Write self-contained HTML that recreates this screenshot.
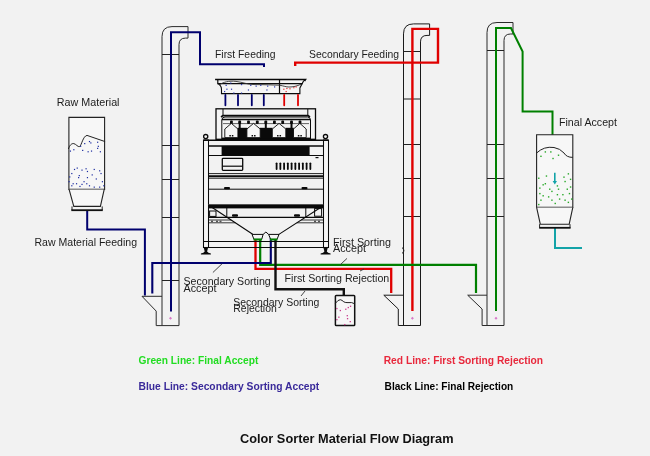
<!DOCTYPE html>
<html><head><meta charset="utf-8"><style>
html,body{margin:0;padding:0;background:#f2f2f2;width:650px;height:456px;overflow:hidden}
svg{display:block;will-change:transform;font-family:"Liberation Sans",sans-serif}
</style></head><body>
<svg width="650" height="456" viewBox="0 0 650 456">
<path d="M162,325.6 V36.6 Q162,26.6 172,26.6 H188 V38.1 H185.5 Q179,38.1 179,44.6 V325.6" fill="none" stroke="#2a2a2a" stroke-width="1.0"/>
<path d="M162,296.3 H142 L156.2,311.1 V325.6 H179" fill="none" stroke="#2a2a2a" stroke-width="1.0"/>
<line x1="162" y1="54.5" x2="179" y2="54.5" stroke="#222" stroke-width="1"/>
<line x1="162" y1="145.5" x2="179" y2="145.5" stroke="#222" stroke-width="1"/>
<line x1="162" y1="179.5" x2="179" y2="179.5" stroke="#222" stroke-width="1"/>
<line x1="162" y1="217.5" x2="179" y2="217.5" stroke="#222" stroke-width="1"/>
<line x1="162" y1="280.5" x2="179" y2="280.5" stroke="#222" stroke-width="1"/>
<path d="M403.5,325.5 V33.9 Q403.5,23.9 413.5,23.9 H429.6 V35.4 H427.0 Q420.5,35.4 420.5,41.9 V325.5" fill="none" stroke="#1a1a1a" stroke-width="1"/>
<path d="M403.5,295.2 H383.8 L398.3,309.0 V325.5 H420.5" fill="none" stroke="#1a1a1a" stroke-width="1"/>
<line x1="403.5" y1="51.5" x2="420.5" y2="51.5" stroke="#222" stroke-width="1"/>
<line x1="403.5" y1="99" x2="420.5" y2="99" stroke="#222" stroke-width="1"/>
<line x1="403.5" y1="144.5" x2="420.5" y2="144.5" stroke="#222" stroke-width="1"/>
<line x1="403.5" y1="178.5" x2="420.5" y2="178.5" stroke="#222" stroke-width="1"/>
<line x1="403.5" y1="216.5" x2="420.5" y2="216.5" stroke="#222" stroke-width="1"/>
<line x1="403.5" y1="264.8" x2="420.5" y2="264.8" stroke="#222" stroke-width="1"/>
<path d="M487,325.5 V32.5 Q487,22.5 497,22.5 H513 V34.0 H510.5 Q504,34.0 504,40.5 V325.5" fill="none" stroke="#2a2a2a" stroke-width="1.0"/>
<path d="M487,295.2 H467.7 L482.09999999999997,309.0 V325.5 H504" fill="none" stroke="#2a2a2a" stroke-width="1.0"/>
<line x1="487" y1="50.5" x2="504" y2="50.5" stroke="#222" stroke-width="1"/>
<line x1="487" y1="144.5" x2="504" y2="144.5" stroke="#222" stroke-width="1"/>
<line x1="487" y1="178.5" x2="504" y2="178.5" stroke="#222" stroke-width="1"/>
<line x1="487" y1="216.5" x2="504" y2="216.5" stroke="#222" stroke-width="1"/>
<path d="M170.5,316.8 L172.0,318.3 L170.5,319.8 L169.0,318.3 Z" fill="#d878c8"/>
<path d="M412.4,316.8 L413.9,318.3 L412.4,319.8 L410.9,318.3 Z" fill="#d878c8"/>
<path d="M496,316.8 L497.5,318.3 L496,319.8 L494.5,318.3 Z" fill="#d878c8"/>
<path d="M412.4,311 V28.9 H438 V62.6 H295.2 V66" fill="none" stroke="#e00000" stroke-width="2.4" stroke-linejoin="miter" stroke-linecap="butt"/>
<path d="M255.5,238 V268.8 H391.2 V293" fill="none" stroke="#e00000" stroke-width="2.3" stroke-linejoin="miter" stroke-linecap="butt"/>
<path d="M260.2,238 V264.9 H476 V293" fill="none" stroke="#008000" stroke-width="2.2" stroke-linejoin="miter" stroke-linecap="butt"/>
<path d="M496,311 V28 H511 L522.6,51.6 V111.4 H552.5 V135" fill="none" stroke="#008000" stroke-width="2" stroke-linejoin="miter" stroke-linecap="butt"/>
<path d="M171,311.6 V32.3 H200 V64.3 H264 V67" fill="none" stroke="#00006e" stroke-width="2" stroke-linejoin="miter" stroke-linecap="butt"/>
<path d="M87.2,210 V229.5 H144.9 V295.4" fill="none" stroke="#00006e" stroke-width="2" stroke-linejoin="miter" stroke-linecap="butt"/>
<path d="M152.3,293.4 V263 H270.8 V238" fill="none" stroke="#00006e" stroke-width="2.1" stroke-linejoin="miter" stroke-linecap="butt"/>
<path d="M275.5,238 V289.3 H343.8 V295.4" fill="none" stroke="#111" stroke-width="2.4" stroke-linejoin="miter" stroke-linecap="butt"/>
<path d="M555,228 V248.1 H582" fill="none" stroke="#13a3a8" stroke-width="2" stroke-linejoin="miter" stroke-linecap="butt"/>
<path d="M68.9,189.4 V117.4 H104.6 V189.4 Z" fill="#f7f7f7" stroke="#222" stroke-width="1.1"/>
<path d="M69.1,189.4 L73.8,206.4 H100.4 L104.2,189.4" fill="#f7f7f7" stroke="#222" stroke-width="1.1"/>
<path d="M72,206.4 V210 M102.2,206.4 V210" fill="none" stroke="#222" stroke-width="1"/>
<path d="M71.3,210.2 H102.8" fill="none" stroke="#111" stroke-width="1.8"/>
<path d="M68.4,149 C69.5,145.5 71.5,143.2 73.8,143.6 C76,144 77.8,147.2 79.6,146.6 C81.5,145.5 83,136 87,135.4 L105.1,141.6" fill="none" stroke="#222" stroke-width="1"/>
<rect x="69.84" y="150.49" width="1.2" height="1.2" fill="#1c2ca0"/>
<rect x="73.24" y="149.13" width="1.2" height="1.2" fill="#1c2ca0"/>
<rect x="80.05" y="145.73" width="1.2" height="1.2" fill="#1c2ca0"/>
<rect x="82.09" y="149.81" width="1.2" height="1.2" fill="#1c2ca0"/>
<rect x="84.13" y="143.01" width="1.2" height="1.2" fill="#1c2ca0"/>
<rect x="88.89" y="140.96" width="1.2" height="1.2" fill="#1c2ca0"/>
<rect x="90.25" y="142.33" width="1.2" height="1.2" fill="#1c2ca0"/>
<rect x="87.53" y="151.17" width="1.2" height="1.2" fill="#1c2ca0"/>
<rect x="90.93" y="150.49" width="1.2" height="1.2" fill="#1c2ca0"/>
<rect x="97.05" y="141.64" width="1.2" height="1.2" fill="#1c2ca0"/>
<rect x="97.73" y="145.73" width="1.2" height="1.2" fill="#1c2ca0"/>
<rect x="97.05" y="147.77" width="1.2" height="1.2" fill="#1c2ca0"/>
<rect x="99.77" y="151.17" width="1.2" height="1.2" fill="#1c2ca0"/>
<rect x="73.92" y="168.86" width="1.2" height="1.2" fill="#1c2ca0"/>
<rect x="76.64" y="167.50" width="1.2" height="1.2" fill="#1c2ca0"/>
<rect x="81.41" y="169.54" width="1.2" height="1.2" fill="#1c2ca0"/>
<rect x="85.49" y="168.18" width="1.2" height="1.2" fill="#1c2ca0"/>
<rect x="86.85" y="170.90" width="1.2" height="1.2" fill="#1c2ca0"/>
<rect x="93.65" y="168.86" width="1.2" height="1.2" fill="#1c2ca0"/>
<rect x="99.09" y="170.22" width="1.2" height="1.2" fill="#1c2ca0"/>
<rect x="100.45" y="172.94" width="1.2" height="1.2" fill="#1c2ca0"/>
<rect x="71.20" y="172.94" width="1.2" height="1.2" fill="#1c2ca0"/>
<rect x="69.16" y="176.34" width="1.2" height="1.2" fill="#1c2ca0"/>
<rect x="78.01" y="177.02" width="1.2" height="1.2" fill="#1c2ca0"/>
<rect x="86.85" y="177.02" width="1.2" height="1.2" fill="#1c2ca0"/>
<rect x="95.69" y="178.38" width="1.2" height="1.2" fill="#1c2ca0"/>
<rect x="101.81" y="181.10" width="1.2" height="1.2" fill="#1c2ca0"/>
<rect x="72.56" y="183.14" width="1.2" height="1.2" fill="#1c2ca0"/>
<rect x="75.96" y="183.14" width="1.2" height="1.2" fill="#1c2ca0"/>
<rect x="81.41" y="183.82" width="1.2" height="1.2" fill="#1c2ca0"/>
<rect x="86.17" y="183.14" width="1.2" height="1.2" fill="#1c2ca0"/>
<rect x="88.89" y="185.18" width="1.2" height="1.2" fill="#1c2ca0"/>
<rect x="79.37" y="185.86" width="1.2" height="1.2" fill="#1c2ca0"/>
<rect x="71.20" y="185.18" width="1.2" height="1.2" fill="#1c2ca0"/>
<rect x="93.65" y="186.54" width="1.2" height="1.2" fill="#1c2ca0"/>
<rect x="99.09" y="186.54" width="1.2" height="1.2" fill="#1c2ca0"/>
<rect x="103.18" y="185.18" width="1.2" height="1.2" fill="#1c2ca0"/>
<rect x="83.45" y="181.10" width="1.2" height="1.2" fill="#1c2ca0"/>
<rect x="68.48" y="181.10" width="1.2" height="1.2" fill="#1c2ca0"/>
<rect x="91.61" y="174.30" width="1.2" height="1.2" fill="#1c2ca0"/>
<rect x="78.69" y="174.98" width="1.2" height="1.2" fill="#1c2ca0"/>
<path d="M536.6,207.4 V134.8 H572.8 V207.4 Z" fill="#f7f7f7" stroke="#222" stroke-width="1.1"/>
<path d="M536.6,207.4 L540.3,224.2 H569.2 L572.8,207.4" fill="#f7f7f7" stroke="#222" stroke-width="1.1"/>
<path d="M539.6,224.2 V227.7 M570,224.2 V227.7" fill="none" stroke="#222" stroke-width="1"/>
<path d="M539.2,227.8 H570.6" fill="none" stroke="#111" stroke-width="1.8"/>
<path d="M536.6,153 Q544,146 554,147.5 Q560,148.5 564,153 Q566.5,157.4 572.8,157.4" fill="none" stroke="#222" stroke-width="1"/>
<path d="M554.8,172.8 V182" stroke="#13a3a8" stroke-width="1.6"/><path d="M552.6,181 L554.8,184.5 L557,181 Z" fill="#13a3a8"/>
<rect x="540.26" y="155.62" width="1.4" height="1.4" fill="#28a828"/>
<rect x="544.65" y="151.23" width="1.4" height="1.4" fill="#28a828"/>
<rect x="550.13" y="151.23" width="1.4" height="1.4" fill="#28a828"/>
<rect x="552.33" y="157.81" width="1.4" height="1.4" fill="#28a828"/>
<rect x="557.81" y="154.52" width="1.4" height="1.4" fill="#28a828"/>
<rect x="538.07" y="177.55" width="1.4" height="1.4" fill="#28a828"/>
<rect x="545.75" y="175.35" width="1.4" height="1.4" fill="#28a828"/>
<rect x="544.65" y="183.03" width="1.4" height="1.4" fill="#28a828"/>
<rect x="542.46" y="184.12" width="1.4" height="1.4" fill="#28a828"/>
<rect x="539.17" y="187.41" width="1.4" height="1.4" fill="#28a828"/>
<rect x="549.04" y="188.51" width="1.4" height="1.4" fill="#28a828"/>
<rect x="551.23" y="190.70" width="1.4" height="1.4" fill="#28a828"/>
<rect x="556.71" y="185.22" width="1.4" height="1.4" fill="#28a828"/>
<rect x="557.81" y="188.51" width="1.4" height="1.4" fill="#28a828"/>
<rect x="563.29" y="176.45" width="1.4" height="1.4" fill="#28a828"/>
<rect x="564.39" y="180.84" width="1.4" height="1.4" fill="#28a828"/>
<rect x="567.68" y="173.16" width="1.4" height="1.4" fill="#28a828"/>
<rect x="569.87" y="178.64" width="1.4" height="1.4" fill="#28a828"/>
<rect x="566.58" y="188.51" width="1.4" height="1.4" fill="#28a828"/>
<rect x="568.77" y="192.90" width="1.4" height="1.4" fill="#28a828"/>
<rect x="562.19" y="193.99" width="1.4" height="1.4" fill="#28a828"/>
<rect x="556.71" y="193.99" width="1.4" height="1.4" fill="#28a828"/>
<rect x="547.94" y="196.19" width="1.4" height="1.4" fill="#28a828"/>
<rect x="542.46" y="195.09" width="1.4" height="1.4" fill="#28a828"/>
<rect x="540.26" y="199.48" width="1.4" height="1.4" fill="#28a828"/>
<rect x="551.23" y="199.48" width="1.4" height="1.4" fill="#28a828"/>
<rect x="558.91" y="198.38" width="1.4" height="1.4" fill="#28a828"/>
<rect x="564.39" y="199.48" width="1.4" height="1.4" fill="#28a828"/>
<rect x="567.68" y="201.67" width="1.4" height="1.4" fill="#28a828"/>
<rect x="538.07" y="203.86" width="1.4" height="1.4" fill="#28a828"/>
<rect x="554.52" y="202.76" width="1.4" height="1.4" fill="#28a828"/>
<rect x="570.97" y="198.38" width="1.4" height="1.4" fill="#28a828"/>
<rect x="539.17" y="192.90" width="1.4" height="1.4" fill="#28a828"/>
<rect x="569.87" y="186.32" width="1.4" height="1.4" fill="#28a828"/>
<rect x="335.4" y="295.4" width="19.3" height="30.2" rx="0.8" fill="#f7f7f7" stroke="#111" stroke-width="1.5"/>
<path d="M335.4,303.3 Q338,299.7 340.3,299.7 Q342,300 343.8,301.8 Q345,302.6 347,302.6 H351.7 L354.7,303.8" fill="none" stroke="#222" stroke-width="1"/>
<rect x="336.23" y="307.91" width="1.3" height="1.3" fill="#c83c8c"/>
<rect x="339.70" y="309.89" width="1.3" height="1.3" fill="#c83c8c"/>
<rect x="345.14" y="308.61" width="1.3" height="1.3" fill="#c83c8c"/>
<rect x="347.62" y="306.92" width="1.3" height="1.3" fill="#c83c8c"/>
<rect x="349.89" y="305.64" width="1.3" height="1.3" fill="#c83c8c"/>
<rect x="346.63" y="315.04" width="1.3" height="1.3" fill="#c83c8c"/>
<rect x="346.92" y="318.01" width="1.3" height="1.3" fill="#c83c8c"/>
<rect x="338.21" y="316.53" width="1.3" height="1.3" fill="#c83c8c"/>
<rect x="336.23" y="319.00" width="1.3" height="1.3" fill="#c83c8c"/>
<rect x="349.60" y="320.98" width="1.3" height="1.3" fill="#c83c8c"/>
<rect x="344.15" y="323.95" width="1.3" height="1.3" fill="#c83c8c"/>
<path d="M217.8,83.6 Q221.5,85.5 221.5,89.5 V93.6 H299.9 V88 L303.8,80.5" fill="#f6f6f6" stroke="#0a0a0a" stroke-width="1.1"/>
<path d="M217.8,79.6 V83.6 H302.6" fill="none" stroke="#0a0a0a" stroke-width="1.2"/>
<path d="M215.1,79.4 H305.6 L304.5,81.2" fill="none" stroke="#0a0a0a" stroke-width="1.5"/>
<line x1="279.5" y1="79.4" x2="279.5" y2="93.6" stroke="#0a0a0a" stroke-width="1.2"/>
<path d="M219.5,85 C223,82 229,80.6 236,81.4 C243,82.2 247,84.6 255,84.6 C265,84.6 272,85 279.5,85.2 C284,86 286,87 289,87 C293,87 297,86.2 301,84.2" fill="none" stroke="#333" stroke-width="0.9"/>
<line x1="225.4" y1="95" x2="225.4" y2="105.3" stroke="#00006e" stroke-width="1.8" stroke-linecap="round"/>
<line x1="238" y1="95" x2="238" y2="105.3" stroke="#00006e" stroke-width="1.8" stroke-linecap="round"/>
<line x1="251.8" y1="95" x2="251.8" y2="105.3" stroke="#00006e" stroke-width="1.8" stroke-linecap="round"/>
<line x1="263.8" y1="95" x2="263.8" y2="105.3" stroke="#00006e" stroke-width="1.8" stroke-linecap="round"/>
<line x1="284.2" y1="95" x2="284.2" y2="105.3" stroke="#e00000" stroke-width="1.8" stroke-linecap="round"/>
<line x1="298" y1="95" x2="298" y2="105.3" stroke="#e00000" stroke-width="1.8" stroke-linecap="round"/>
<rect x="216" y="108.8" width="99.5" height="30.7" fill="#f4f4f4" stroke="#0a0a0a" stroke-width="1.3"/>
<line x1="223" y1="109" x2="223" y2="115.6" stroke="#0a0a0a" stroke-width="1"/>
<line x1="307.8" y1="109" x2="307.8" y2="115.6" stroke="#0a0a0a" stroke-width="1"/>
<path d="M221,117 L223,115.6 H308 L310,117" fill="none" stroke="#0a0a0a" stroke-width="1.6"/>
<path d="M221.8,139.5 V120 Q221.8,117 225,117 H307.5 Q310.5,117 310.5,120 V139.5" fill="none" stroke="#0a0a0a" stroke-width="1"/>
<line x1="222" y1="119.4" x2="310" y2="119.4" stroke="#0a0a0a" stroke-width="1.5"/>
<rect x="237.5" y="127.8" width="9.800000000000011" height="11" fill="#0a0a0a"/>
<rect x="259.8" y="127.8" width="12.899999999999977" height="11" fill="#0a0a0a"/>
<rect x="285.4" y="127.8" width="8.5" height="11" fill="#0a0a0a"/>
<rect x="222" y="137.6" width="88.5" height="2" fill="#0a0a0a"/>
<line x1="223" y1="123.6" x2="309" y2="123.6" stroke="#555" stroke-width="0.9"/>
<rect x="230.0" y="120.6" width="2.8" height="3.4" rx="0.8" fill="#0a0a0a"/>
<rect x="238.29999999999998" y="120.6" width="2.8" height="3.4" rx="0.8" fill="#0a0a0a"/>
<rect x="247.1" y="120.6" width="2.8" height="3.4" rx="0.8" fill="#0a0a0a"/>
<rect x="255.9" y="120.6" width="2.8" height="3.4" rx="0.8" fill="#0a0a0a"/>
<rect x="264.40000000000003" y="120.6" width="2.8" height="3.4" rx="0.8" fill="#0a0a0a"/>
<rect x="273.0" y="120.6" width="2.8" height="3.4" rx="0.8" fill="#0a0a0a"/>
<rect x="281.3" y="120.6" width="2.8" height="3.4" rx="0.8" fill="#0a0a0a"/>
<rect x="290.1" y="120.6" width="2.8" height="3.4" rx="0.8" fill="#0a0a0a"/>
<rect x="298.6" y="120.6" width="2.8" height="3.4" rx="0.8" fill="#0a0a0a"/>
<rect x="238.7" y="122" width="2" height="6" fill="#0a0a0a"/>
<rect x="264.8" y="122" width="2" height="6" fill="#0a0a0a"/>
<rect x="290.5" y="122" width="2" height="6" fill="#0a0a0a"/>
<path d="M224.8,129 L231.35000000000002,123.4 L237.9,129 V137.6 H224.8 Z" fill="#f6f6f6" stroke="#0a0a0a" stroke-width="0.9"/>
<rect x="229.35000000000002" y="135" width="1.5" height="1.5" fill="#0a0a0a"/><rect x="231.85000000000002" y="135" width="1.5" height="1.5" fill="#0a0a0a"/>
<path d="M246.9,129 L253.55,123.4 L260.2,129 V137.6 H246.9 Z" fill="#f6f6f6" stroke="#0a0a0a" stroke-width="0.9"/>
<rect x="251.55" y="135" width="1.5" height="1.5" fill="#0a0a0a"/><rect x="254.05" y="135" width="1.5" height="1.5" fill="#0a0a0a"/>
<path d="M272.3,129 L279.05,123.4 L285.8,129 V137.6 H272.3 Z" fill="#f6f6f6" stroke="#0a0a0a" stroke-width="0.9"/>
<rect x="277.05" y="135" width="1.5" height="1.5" fill="#0a0a0a"/><rect x="279.55" y="135" width="1.5" height="1.5" fill="#0a0a0a"/>
<path d="M293.5,129 L299.85,123.4 L306.2,129 V137.6 H293.5 Z" fill="#f6f6f6" stroke="#0a0a0a" stroke-width="0.9"/>
<rect x="297.85" y="135" width="1.5" height="1.5" fill="#0a0a0a"/><rect x="300.35" y="135" width="1.5" height="1.5" fill="#0a0a0a"/>
<line x1="216" y1="139.5" x2="315.5" y2="139.5" stroke="#0a0a0a" stroke-width="1.4"/>
<rect x="203.5" y="140" width="5" height="107.5" fill="#f6f6f6" stroke="#0a0a0a" stroke-width="1.05"/>
<rect x="323.5" y="140" width="5" height="107.5" fill="#f6f6f6" stroke="#0a0a0a" stroke-width="1.05"/>
<circle cx="205.7" cy="136.6" r="2.1" fill="none" stroke="#0a0a0a" stroke-width="1.3"/>
<circle cx="325.5" cy="136.6" r="2.1" fill="none" stroke="#0a0a0a" stroke-width="1.3"/>
<line x1="203.7" y1="140.2" x2="328.1" y2="140.2" stroke="#0a0a0a" stroke-width="1.5"/>
<line x1="208.4" y1="146" x2="323.2" y2="146" stroke="#0a0a0a" stroke-width="1.5"/>
<rect x="221.6" y="146" width="88" height="9.2" fill="#0a0a0a"/>
<line x1="208.4" y1="155.5" x2="323.2" y2="155.5" stroke="#0a0a0a" stroke-width="1"/>
<rect x="222.3" y="158.3" width="20.4" height="12.1" rx="0.8" fill="none" stroke="#0a0a0a" stroke-width="1.3"/>
<line x1="222.3" y1="166.2" x2="242.7" y2="166.2" stroke="#0a0a0a" stroke-width="1.2"/>
<rect x="275.70000000000005" y="162.4" width="1.8" height="7.6" rx="0.9" fill="#0a0a0a"/>
<rect x="279.45000000000005" y="162.4" width="1.8" height="7.6" rx="0.9" fill="#0a0a0a"/>
<rect x="283.20000000000005" y="162.4" width="1.8" height="7.6" rx="0.9" fill="#0a0a0a"/>
<rect x="286.95000000000005" y="162.4" width="1.8" height="7.6" rx="0.9" fill="#0a0a0a"/>
<rect x="290.70000000000005" y="162.4" width="1.8" height="7.6" rx="0.9" fill="#0a0a0a"/>
<rect x="294.45000000000005" y="162.4" width="1.8" height="7.6" rx="0.9" fill="#0a0a0a"/>
<rect x="298.20000000000005" y="162.4" width="1.8" height="7.6" rx="0.9" fill="#0a0a0a"/>
<rect x="301.95000000000005" y="162.4" width="1.8" height="7.6" rx="0.9" fill="#0a0a0a"/>
<rect x="305.70000000000005" y="162.4" width="1.8" height="7.6" rx="0.9" fill="#0a0a0a"/>
<rect x="309.45000000000005" y="162.4" width="1.8" height="7.6" rx="0.9" fill="#0a0a0a"/>
<rect x="315.5" y="157" width="3" height="1.2" fill="#0a0a0a"/>
<line x1="208.4" y1="173.6" x2="323.2" y2="173.6" stroke="#0a0a0a" stroke-width="0.9"/>
<line x1="208.4" y1="176.2" x2="323.2" y2="176.2" stroke="#0a0a0a" stroke-width="2"/>
<line x1="208.4" y1="178.3" x2="323.2" y2="178.3" stroke="#0a0a0a" stroke-width="0.8"/>
<rect x="224" y="187" width="6" height="2.2" rx="1" fill="#0a0a0a"/>
<rect x="301.5" y="187" width="6" height="2.2" rx="1" fill="#0a0a0a"/>
<line x1="208.4" y1="189.2" x2="323.2" y2="189.2" stroke="#0a0a0a" stroke-width="1"/>
<rect x="208.4" y="204" width="114.8" height="1.2" fill="#555"/>
<rect x="208.4" y="205" width="114.8" height="3.4" fill="#0a0a0a"/>
<path d="M226.8,207.9 V217.3 M305.8,217.3 V207.9" fill="none" stroke="#0a0a0a" stroke-width="1"/>
<rect x="232" y="214.3" width="6" height="2.4" rx="1" fill="#0a0a0a"/>
<rect x="294" y="214.3" width="6" height="2.4" rx="1" fill="#0a0a0a"/>
<rect x="209.6" y="211" width="6.4" height="5.4" fill="none" stroke="#0a0a0a" stroke-width="1"/>
<rect x="314.6" y="208.6" width="7" height="7.6" fill="none" stroke="#0a0a0a" stroke-width="1"/>
<line x1="208.4" y1="217.3" x2="323.2" y2="217.3" stroke="#0a0a0a" stroke-width="1.2"/>
<line x1="208.4" y1="220" x2="231.2" y2="220" stroke="#0a0a0a" stroke-width="0.8"/>
<line x1="208.4" y1="222.8" x2="235.4" y2="222.8" stroke="#0a0a0a" stroke-width="0.8"/>
<line x1="301.2" y1="220" x2="323.2" y2="220" stroke="#0a0a0a" stroke-width="0.8"/>
<line x1="296.8" y1="222.8" x2="323.2" y2="222.8" stroke="#0a0a0a" stroke-width="0.8"/>
<rect x="211" y="220.6" width="2" height="1.6" fill="#555"/><rect x="216" y="220.6" width="2" height="1.6" fill="#555"/><rect x="219.5" y="220.6" width="2" height="1.6" fill="#555"/>
<rect x="314" y="220.6" width="2" height="1.6" fill="#555"/><rect x="318" y="220.6" width="2" height="1.6" fill="#555"/>
<path d="M208.4,205 L252.7,234.2 M322.9,206 L278.5,234.6" fill="none" stroke="#0a0a0a" stroke-width="1.1"/>
<path d="M252,234.4 H263.1 L261.7,239.4 H254 Z" fill="#f4f4f4" stroke="#0a0a0a" stroke-width="1"/>
<path d="M268.6,234.4 H279 L277,239.4 H270.7 Z" fill="#f4f4f4" stroke="#0a0a0a" stroke-width="1"/>
<path d="M263.1,234.4 L265.9,232 L268.6,234.4" fill="none" stroke="#0a0a0a" stroke-width="1"/>
<rect x="253.5" y="238.5" width="8.5" height="2" fill="#008000"/>
<rect x="270" y="238.5" width="7.5" height="2" fill="#008000"/>
<line x1="203.7" y1="241.5" x2="328.1" y2="241.5" stroke="#0a0a0a" stroke-width="1"/>
<line x1="203.7" y1="247.5" x2="328.1" y2="247.5" stroke="#0a0a0a" stroke-width="1"/>
<path d="M203.70000000000002,247.5 H208.1 L207.1,251.5 Q207.9,253.2 210.9,253.6 V254.6 H200.9 V253.6 Q203.9,253.2 204.70000000000002,251.5 Z" fill="#0a0a0a"/>
<path d="M323.40000000000003,247.5 H327.8 L326.8,251.5 Q327.6,253.2 330.6,253.6 V254.6 H320.6 V253.6 Q323.6,253.2 324.40000000000003,251.5 Z" fill="#0a0a0a"/>
<line x1="212.9" y1="272.5" x2="222" y2="263.8" stroke="#333" stroke-width="0.9"/>
<line x1="340" y1="265" x2="347" y2="258.4" stroke="#333" stroke-width="0.9"/>
<line x1="360" y1="271" x2="364" y2="269" stroke="#333" stroke-width="0.9"/>
<line x1="301" y1="296" x2="305" y2="291" stroke="#333" stroke-width="0.9"/>
<path d="M402.4,247.6 Q405.2,250.5 402.4,253.4" fill="none" stroke="#222" stroke-width="1.1"/>
<rect x="224.02" y="90.94" width="1.2" height="1.2" fill="#2a3ab0"/>
<rect x="225.55" y="84.78" width="1.2" height="1.2" fill="#2a3ab0"/>
<rect x="230.17" y="82.48" width="1.2" height="1.2" fill="#2a3ab0"/>
<rect x="230.94" y="88.63" width="1.2" height="1.2" fill="#2a3ab0"/>
<rect x="233.25" y="92.48" width="1.2" height="1.2" fill="#2a3ab0"/>
<rect x="240.94" y="84.02" width="1.2" height="1.2" fill="#2a3ab0"/>
<rect x="247.86" y="89.40" width="1.2" height="1.2" fill="#2a3ab0"/>
<rect x="250.17" y="84.78" width="1.2" height="1.2" fill="#2a3ab0"/>
<rect x="255.55" y="85.55" width="1.2" height="1.2" fill="#2a3ab0"/>
<rect x="260.17" y="84.78" width="1.2" height="1.2" fill="#2a3ab0"/>
<rect x="266.32" y="89.40" width="1.2" height="1.2" fill="#2a3ab0"/>
<rect x="267.09" y="85.55" width="1.2" height="1.2" fill="#2a3ab0"/>
<rect x="274.02" y="86.32" width="1.2" height="1.2" fill="#2a3ab0"/>
<rect x="240.94" y="92.48" width="1.2" height="1.2" fill="#2a3ab0"/>
<rect x="226.32" y="88.63" width="1.2" height="1.2" fill="#2a3ab0"/>
<rect x="283.25" y="88.63" width="1.2" height="1.2" fill="#e03030"/>
<rect x="286.32" y="87.86" width="1.2" height="1.2" fill="#e03030"/>
<rect x="289.40" y="88.17" width="1.2" height="1.2" fill="#e03030"/>
<rect x="293.25" y="87.09" width="1.2" height="1.2" fill="#e03030"/>
<rect x="295.55" y="86.32" width="1.2" height="1.2" fill="#e03030"/>
<rect x="285.55" y="90.94" width="1.2" height="1.2" fill="#e03030"/>
<text x="56.8" y="105.8" font-size="11" fill="#1c1c1c" font-weight="normal" textLength="62.7" lengthAdjust="spacingAndGlyphs">Raw Material</text>
<text x="34.5" y="245.8" font-size="11" fill="#1c1c1c" font-weight="normal" textLength="102.5" lengthAdjust="spacingAndGlyphs">Raw Material Feeding</text>
<text x="215" y="58" font-size="11" fill="#1c1c1c" font-weight="normal" textLength="60.5" lengthAdjust="spacingAndGlyphs">First Feeding</text>
<text x="309" y="58" font-size="11" fill="#1c1c1c" font-weight="normal" textLength="90" lengthAdjust="spacingAndGlyphs">Secondary Feeding</text>
<text x="559" y="125.6" font-size="11" fill="#1c1c1c" font-weight="normal" textLength="58" lengthAdjust="spacingAndGlyphs">Final Accept</text>
<text x="183.5" y="284.6" font-size="11" fill="#1c1c1c" font-weight="normal" textLength="87.2" lengthAdjust="spacingAndGlyphs">Secondary Sorting</text>
<text x="183.5" y="291.5" font-size="11" fill="#1c1c1c" font-weight="normal" textLength="33" lengthAdjust="spacingAndGlyphs">Accept</text>
<text x="333" y="246" font-size="11" fill="#1c1c1c" font-weight="normal" textLength="58" lengthAdjust="spacingAndGlyphs">First Sorting</text>
<text x="333" y="252.3" font-size="11" fill="#1c1c1c" font-weight="normal" textLength="33" lengthAdjust="spacingAndGlyphs">Accept</text>
<text x="284.6" y="282.3" font-size="11" fill="#1c1c1c" font-weight="normal" textLength="104.7" lengthAdjust="spacingAndGlyphs">First Sorting Rejection</text>
<text x="233.3" y="305.6" font-size="11" fill="#1c1c1c" font-weight="normal" textLength="86" lengthAdjust="spacingAndGlyphs">Secondary Sorting</text>
<text x="233.3" y="311.9" font-size="11" fill="#1c1c1c" font-weight="normal" textLength="43.5" lengthAdjust="spacingAndGlyphs">Rejection</text>
<text x="138.5" y="363.6" font-size="10" fill="#22dd22" font-weight="bold" textLength="119.8" lengthAdjust="spacingAndGlyphs">Green Line: Final Accept</text>
<text x="138.5" y="390.3" font-size="10" fill="#3a2a9a" font-weight="bold" textLength="180.8" lengthAdjust="spacingAndGlyphs">Blue Line: Secondary Sorting Accept</text>
<text x="383.7" y="363.6" font-size="10" fill="#e8283c" font-weight="bold" textLength="159.4" lengthAdjust="spacingAndGlyphs">Red Line: First Sorting Rejection</text>
<text x="384.6" y="390.3" font-size="10" fill="#000" font-weight="bold" textLength="128.7" lengthAdjust="spacingAndGlyphs">Black Line: Final Rejection</text>
<text x="240" y="443" font-size="13" fill="#111" font-weight="bold" textLength="213.5" lengthAdjust="spacingAndGlyphs">Color Sorter Material Flow Diagram</text>
</svg>
</body></html>
